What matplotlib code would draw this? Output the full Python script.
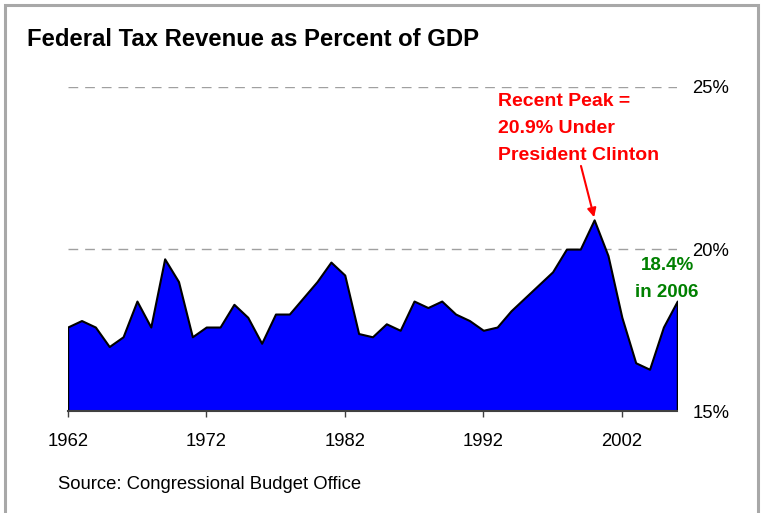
import matplotlib
matplotlib.use("Agg")
import matplotlib.pyplot as plt
from matplotlib.patches import Rectangle

plt.rcParams["font.family"] = ["Liberation Sans", "DejaVu Sans"]

# Data (CBO, federal revenue as percent of GDP).
years = list(range(1962, 2007))
revenue_pct = [17.6, 17.8, 17.6, 17.0, 17.3, 18.4, 17.6, 19.7, 19.0, 17.3,
               17.6, 17.6, 18.3, 17.9, 17.1, 18.0, 18.0, 18.5, 19.0, 19.6,
               19.2, 17.4, 17.3, 17.7, 17.5, 18.4, 18.2, 18.4, 18.0, 17.8,
               17.5, 17.6, 18.1, 18.5, 18.9, 19.3, 20.0, 20.0, 20.9, 19.8,
               17.9, 16.5, 16.3, 17.6, 18.4]
x_ticks = [1962, 1972, 1982, 1992, 2002]
y_ticks = [15, 20, 25]
y_tick_labels = ["15%", "20%", "25%"]

peak_year = 2000
peak_value = 20.9

# Figure.
fig = plt.figure(figsize=(7.62, 5.13), dpi=100)
ax = fig.add_axes([0.0888, 0.1979, 0.8, 0.6331])

ax.fill_between(years, revenue_pct, 15, facecolor="#0000FF",
                edgecolor="black", linewidth=1.5, zorder=2)

ax.set_xlim(years[0], years[-1])
ax.set_ylim(15, 25)

# Axes styling.
for side in ["left", "right", "top"]:
    ax.spines[side].set_visible(False)
ax.spines["bottom"].set_color("#404040")
ax.spines["bottom"].set_linewidth(1.5)
ax.spines["bottom"].set_zorder(3)

ax.set_xticks(x_ticks)
ax.set_xticklabels([str(y) for y in x_ticks])
ax.tick_params(axis="x", direction="out", length=4.5, width=1,
               color="#404040", pad=11, labelsize=13.3)

ax.yaxis.tick_right()
ax.set_yticks(y_ticks)
ax.set_yticklabels(y_tick_labels)
ax.tick_params(axis="y", length=0, pad=11, labelsize=13.3)

ax.set_axisbelow(True)
ax.yaxis.grid(True, color="#A0A0A0", linewidth=1.0,
              linestyle=(0, (7, 5)))
ax.xaxis.grid(False)

# Annotations.
ax.annotate("", xy=(peak_year, peak_value + 0.08),
            xytext=(1999.05, 22.56),
            arrowprops=dict(arrowstyle="-|>", color="red", lw=1.5,
                            mutation_scale=13, shrinkA=0, shrinkB=0))
ax.text(1993.06, 23.72, "Recent Peak =\n20.9% Under\nPresident Clinton",
        color="red", fontsize=14, fontweight="bold", ha="left",
        va="center", linespacing=1.75)
ax.text(2005.26, 19.07, "18.4%\nin 2006", color="#008000", fontsize=13.5,
        fontweight="bold", ha="center", va="center", linespacing=1.78)

# Title and source.
fig.text(0.0354, 0.9236, "Federal Tax Revenue as Percent of GDP",
         fontsize=17.2, fontweight="bold", ha="left", va="center")
fig.text(0.0765, 0.0546, "Source: Congressional Budget Office",
         fontsize=13.3, ha="left", va="center")

# Frame around the chart.
fig.patches.append(Rectangle((5 / 762, -0.05), 753 / 762, 1.05 - 5 / 513,
                             transform=fig.transFigure, fill=False,
                             edgecolor="#A8A8A8", linewidth=2.2))

fig.savefig("out.png", dpi=100)
